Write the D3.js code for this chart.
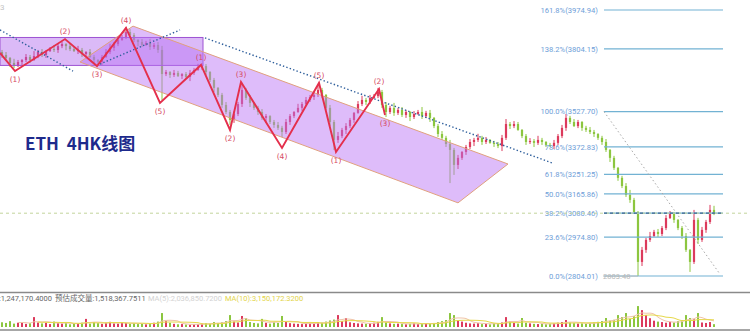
<!DOCTYPE html>
<html><head><meta charset="utf-8">
<script src="https://cdn.jsdelivr.net/npm/d3@7/dist/d3.min.js"></script>
<style>html,body{margin:0;padding:0;background:#fff;overflow:hidden}svg{display:block}</style>
</head><body>
<svg id="c" width="750" height="332"></svg>
<script>
// ---- candle data (ETH 4H) ----
const firstOpen = 3790;
const closes = [
3777,3764,3742,3728,3746,3755,3768,3755,3772,3790,
3777,3794,3803,3799,3816,3825,3816,3803,3794,3799,
3781,3790,3768,3755,3746,3768,3790,3808,3825,3843,
3856,3878,3865,3843,3834,3821,3830,3812,3821,3799,
3693,3702,3689,3698,3684,3693,3680,3698,3711,3720,
3728,3702,3667,3632,3601,3557,3526,3491,3517,3561,
3623,3588,3566,3544,3526,3500,3508,3482,3469,3456,
3438,3482,3508,3526,3544,3561,3579,3592,3601,3623,
3601,3544,3482,3403,3420,3447,3464,3491,3522,3561,
3579,3570,3588,3596,3614,3557,3526,3544,3522,3535,
3513,3526,3504,3517,3526,3508,3522,3500,3464,3429,
3412,3385,3359,3293,3324,3350,3372,3394,3403,3412,
3394,3403,3390,3385,3376,3412,3473,3464,3473,3447,
3420,3394,3398,3390,3403,3394,3381,3376,3390,3420,
3456,3500,3482,3464,3482,3456,3447,3438,3429,3412,
3394,3359,3324,3280,3236,3200,3161,3139,3086,2866,
2919,2963,2980,2998,2989,3015,3059,3077,3051,3015,
2980,2919,2866,3051,2963,3007,3042,3095,3081];
const wickUp = [
9,13,4,18,9,4,13,9,22,9, 13,4,9,18,13,9,4,13,9,18,
9,4,13,9,4,9,13,18,9,13, 9,22,13,9,4,13,9,18,9,13,
18,9,4,13,9,4,9,13,9,18, 13,9,4,9,4,9,13,9,13,9,
31,9,13,4,9,13,9,4,9,13, 9,13,9,4,18,9,13,9,13,22,
9,4,13,9,18,9,13,9,4,13, 18,9,13,9,18,9,13,9,22,9,
13,9,4,13,9,22,9,13,4,9, 13,9,18,9,13,4,9,13,9,18,
9,13,4,9,9,13,22,9,13,9, 4,9,13,9,18,9,4,9,13,9,
13,17,9,13,9,4,9,13,9,4, 9,13,4,9,4,9,13,22,9,4,
13,9,18,9,13,9,13,13,9,4, 9,13,4,44,9,13,9,22,18];
const wickDn = [
13,9,18,9,4,13,9,13,4,9, 9,13,4,9,13,9,18,9,4,13,
13,9,4,18,9,13,4,9,13,9, 4,9,13,9,18,9,4,13,9,13,
114,9,13,9,4,13,9,18,9,4, 9,13,9,18,9,13,9,22,13,9,
13,9,18,9,13,9,22,9,13,9, 22,9,13,9,4,13,9,9,13,9,
13,9,18,44,13,9,18,9,13,4, 9,13,9,4,9,13,22,9,13,9,
9,13,18,9,4,13,9,18,9,13, 9,13,146,44,18,9,13,9,18,9,
13,9,4,13,9,22,9,13,9,4, 9,13,9,18,9,13,9,4,13,9,
9,13,9,4,9,13,9,9,13,9, 13,9,18,9,13,9,9,13,9,62,
18,13,9,4,13,9,9,4,13,9, 13,9,44,9,18,9,13,9,9];
const volumes = [ // millions
2.1,1.8,2.6,1.5,1.9,2.2,1.4,1.7,4.4,2.0, 1.6,1.9,1.3,2.4,1.7,1.5,1.8,1.2,1.4,1.6,
1.9,3.6,1.5,2.2,1.7,1.4,1.9,2.3,1.6,1.5, 2.0,1.8,1.4,1.7,1.3,1.6,1.2,1.5,1.9,2.4,
6.2,2.6,1.9,1.4,1.2,1.3,1.1,1.0,1.2,1.3, 1.5,1.7,1.4,2.2,1.8,2.1,2.6,5.3,2.4,2.0,
4.9,4.0,2.2,1.8,1.6,3.6,1.9,1.5,2.1,1.8, 4.9,2.3,1.7,1.5,1.4,1.3,1.6,1.8,1.5,2.2,
1.9,2.4,2.9,3.3,5.3,2.6,4.0,2.1,1.8,1.6, 1.5,1.4,1.7,1.9,2.3,4.4,2.0,1.6,1.4,1.5,
1.3,1.2,1.4,1.6,1.3,1.5,1.7,1.4,1.8,2.2, 2.6,3.1,6.2,5.3,3.0,2.4,1.9,1.6,1.5,1.7,
1.3,1.4,1.2,1.6,1.5,2.0,4.4,2.6,1.8,1.5, 4.0,1.9,1.6,1.4,1.3,1.5,1.2,1.4,1.6,1.9,
2.2,3.1,2.0,1.7,1.5,1.6,1.4,1.8,2.0,2.3, 2.6,4.0,2.8,3.2,5.3,4.4,6.2,3.6,4.8,9.3,
7.5,5.3,3.9,2.8,2.4,2.2,1.9,2.3,2.0,2.6, 3.1,5.3,4.0,3.4,6.2,2.0,1.8,2.2,1.25];

// ---- wave (zigzag) points: candle index, price ----
const waveIdx    = [-0.5, 3.25, 15.75, 23.75, 31, 39.5, 49.75, 57, 59.75, 70, 79.25, 83.5, 94.25, 95.75];
const wavePrice  = [3786, 3706, 3847, 3728, 3896, 3566, 3733, 3447, 3658, 3368, 3654, 3350, 3627, 3513];
const waveLabels = ["", "(1)", "(2)", "(3)", "(4)", "(5)", "(1)", "(2)", "(3)", "(4)", "(5)", "(1)", "(2)", "(3)"];
const waveSide   = ["", "b", "a", "b", "a", "b", "a", "b", "a", "b", "a", "b", "a", "b"];

// ---- drawings ----
const channelIdx   = [32.75, 126.5, 114, 19.5];
const channelPrice = [3904, 3297, 3126, 3746];
const boxIdx   = [-0.5, 50.25];
const boxPrice = [3854, 3731];
const trendLines = [ // [idx0, price0, idx1, price1]
  [-0.5, 3887, 17.75, 3706],
  [24.5, 3737, 44.5, 3887],
  [50.75, 3852, 137.5, 3302]
];
const fibRatios = ["161.8%","138.2%","100.0%","78.6%","61.8%","50.0%","38.2%","23.6%","0.0%"];
const fibPrices = [3974.94,3804.15,3527.70,3372.83,3251.25,3165.86,3080.46,2974.80,2804.01];
const fibIdx = [150.5, 180.25];
const fibDiag = [150.5, 3527.70, 179.5, 2812];
const lowIdx = 159, lowPrice = 2803.48;
const lastPrice = 3080.46;
const volText = {cur:":1,247,170.4000", est:"预估成交量:1,518,367.7511", ma5:"MA(5):2,036,850.7200", ma10:"MA(10):3,150,172.3200"};

// ---- scales ----
const N = closes.length;
const x = d3.scaleLinear().domain([0, N-1]).range([2, 714]);
const y = d3.scaleLinear().domain([2804.01, 3974.94]).range([276, 10]);
const yv = d3.scaleLinear().domain([0, 12]).range([327, 300]);

const svg = d3.select("#c");
const candles = closes.map((c,i)=>{
  const o = i===0 ? firstOpen : closes[i-1];
  return {i, o, c, h: Math.max(o,c)+wickUp[i], l: Math.min(o,c)-wickDn[i], v: volumes[i], up: c>=o};
});
const UP = "#dc3a5c", DN = "#8cc63f";

// candles
const cg = svg.append("g");
cg.selectAll("line").data(candles).join("line")
  .attr("x1", d=>x(d.i)).attr("x2", d=>x(d.i))
  .attr("y1", d=>y(d.h)).attr("y2", d=>y(d.l))
  .attr("stroke", d=>d.up?UP:DN).attr("stroke-width", 1);
cg.selectAll("rect").data(candles).join("rect")
  .attr("x", d=>x(d.i)-1.1).attr("width", 2.2)
  .attr("y", d=>y(Math.max(d.o,d.c)))
  .attr("height", d=>Math.max(1, Math.abs(y(d.o)-y(d.c))))
  .attr("fill", d=>d.up?UP:DN);

// box
svg.append("rect")
  .attr("x", x(boxIdx[0])).attr("y", y(boxPrice[0]))
  .attr("width", x(boxIdx[1])-x(boxIdx[0])).attr("height", y(boxPrice[1])-y(boxPrice[0]))
  .attr("fill", "rgba(170,90,235,0.42)").attr("stroke", "#9d52d2").attr("stroke-width", 1);

// channel
svg.append("polygon")
  .attr("points", channelIdx.map((d,k)=>x(d)+","+y(channelPrice[k])).join(" "))
  .attr("fill", "rgba(185,115,245,0.48)").attr("stroke", "#e0a07e").attr("stroke-width", 1);

// blue dotted trend lines
svg.selectAll(".tl").data(trendLines).join("line").attr("class","tl")
  .attr("x1", d=>x(d[0])).attr("y1", d=>y(d[1])).attr("x2", d=>x(d[2])).attr("y2", d=>y(d[3]))
  .attr("stroke", "#2f5f9c").attr("stroke-width", 1.4).attr("stroke-dasharray", "1.4,2.2");

// zigzag
const wpts = waveIdx.map((d,k)=>[x(d), y(wavePrice[k])]);
svg.append("path").attr("d", d3.line()(wpts))
  .attr("fill","none").attr("stroke","#e42f4c").attr("stroke-width",1.9).attr("stroke-linejoin","miter");
svg.selectAll(".wl").data(waveLabels.map((t,k)=>({t,k})).filter(d=>d.t)).join("text").attr("class","wl")
  .attr("x", d=>wpts[d.k][0]).attr("y", d=>wpts[d.k][1] + (waveSide[d.k]==="a" ? -5 : 11))
  .attr("text-anchor","middle").attr("font-family","DejaVu Sans").attr("font-size",7.5)
  .attr("fill","#d64a62").text(d=>d.t);

// fib
const fg = svg.append("g");
fg.selectAll("line").data(fibPrices).join("line")
  .attr("x1", x(fibIdx[0])).attr("x2", x(fibIdx[1]))
  .attr("y1", d=>y(d)).attr("y2", d=>y(d))
  .attr("stroke", "#72b2d3").attr("stroke-width", 1.2);
fg.selectAll("text").data(fibPrices).join("text")
  .attr("x", x(fibIdx[0]) - 6).attr("y", d=>y(d)+2.8)
  .attr("text-anchor","end").attr("font-family","Roboto").attr("font-size",7.6)
  .attr("fill","#6e9ed8").text((d,k)=>fibRatios[k]+"("+d.toFixed(2)+")");
svg.append("line")
  .attr("x1", x(fibDiag[0])).attr("y1", y(fibDiag[1])).attr("x2", x(fibDiag[2])).attr("y2", y(fibDiag[3]))
  .attr("stroke","#a8a8a8").attr("stroke-width",1).attr("stroke-dasharray","1.5,2.5");

// low marker
svg.append("text").attr("x", x(fibIdx[0])-1).attr("y", y(lowPrice)+2.8)
  .attr("font-family","Roboto").attr("font-size",7.6).attr("fill","#b8b8b8").text(lowPrice.toFixed(2));
svg.append("line").attr("x1", x(fibIdx[0])-1).attr("x2", x(lowIdx)).attr("y1", y(lowPrice)).attr("y2", y(lowPrice))
  .attr("stroke","#b8b8b8").attr("stroke-width",0.8);

// current price dashed line
svg.append("line").attr("x1",0).attr("x2",750).attr("y1",y(lastPrice)).attr("y2",y(lastPrice))
  .attr("stroke","#c2d49c").attr("stroke-width",1).attr("stroke-dasharray","3,3");
svg.append("line").attr("x1",x(fibIdx[0])).attr("x2",x(fibIdx[1])).attr("y1",y(lastPrice)).attr("y2",y(lastPrice))
  .attr("stroke","#3c6590").attr("stroke-width",1.2).attr("stroke-dasharray","3,3");

// title
svg.append("text").attr("x",25).attr("y",150)
  .attr("font-family","'Noto Sans CJK SC', 'Noto Sans'").attr("font-weight","bold").attr("font-size",17)
  .attr("fill","#1e2a8c").attr("xml:space","preserve").text("ETH  4HK线图");
svg.append("text").attr("x",0).attr("y",10).attr("font-family","Roboto").attr("font-size",8).attr("fill","#c4c4c4").text("3");

// volume pane
svg.append("line").attr("x1",0).attr("x2",750).attr("y1",292.5).attr("y2",292.5).attr("stroke","#8a8a8a").attr("stroke-width",1.3);
svg.append("line").attr("x1",0).attr("x2",750).attr("y1",330).attr("y2",330).attr("stroke","#8a8a8a").attr("stroke-width",1.3);
const vf = "'Roboto','Noto Sans CJK SC'";
svg.append("text").attr("x",52).attr("y",301).attr("text-anchor","end").attr("font-family",vf).attr("font-size",7.5).attr("fill","#666").text(volText.cur);
svg.append("text").attr("x",55).attr("y",301).attr("font-family",vf).attr("font-size",7.5).attr("fill","#666").text(volText.est);
svg.append("text").attr("x",148).attr("y",301).attr("font-family",vf).attr("font-size",7.5).attr("fill","#d2d2d2").text(volText.ma5);
svg.append("text").attr("x",225).attr("y",301).attr("font-family",vf).attr("font-size",7.5).attr("fill","#e2d448").text(volText.ma10);

svg.append("g").selectAll("rect").data(candles).join("rect")
  .attr("x", d=>x(d.i)-1).attr("width", 2)
  .attr("y", d=>yv(d.v)).attr("height", d=>yv(0)-yv(d.v))
  .attr("fill", d=>d.up?UP:DN);
function ma(n){ return candles.map((d,i)=> i<n-1 ? null : [x(i), yv(d3.mean(volumes.slice(i-n+1,i+1)))]).filter(Boolean); }
svg.append("path").attr("d", d3.line().curve(d3.curveMonotoneX)(ma(5))).attr("fill","none").attr("stroke","#f0c4a8").attr("stroke-width",1);
svg.append("path").attr("d", d3.line().curve(d3.curveMonotoneX)(ma(10))).attr("fill","none").attr("stroke","#e6d84a").attr("stroke-width",1);
</script>
</body></html>
